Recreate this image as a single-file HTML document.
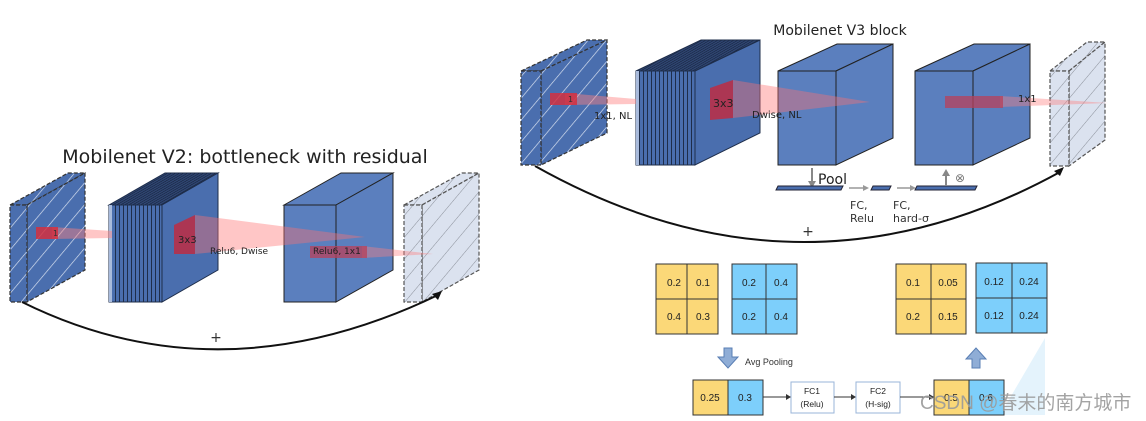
<!DOCTYPE html>
<html><head><meta charset="utf-8"><style>
body{margin:0;background:#fff;}
svg{display:block;font-family:"DejaVu Sans","Liberation Sans",sans-serif;}
.c{font-family:"Liberation Sans","Noto Sans CJK SC",sans-serif;}
</style></head><body>
<svg width="1146" height="421" viewBox="0 0 1146 421" xmlns="http://www.w3.org/2000/svg">
<defs>
<pattern id="hw" width="14" height="14" patternUnits="userSpaceOnUse" patternTransform="rotate(40)">
<rect width="14" height="14" fill="#4a6eae"/><line x1="0" y1="0" x2="0" y2="14" stroke="#dfe6f3" stroke-width="1.3"/></pattern>
<pattern id="hg" width="14" height="14" patternUnits="userSpaceOnUse" patternTransform="rotate(40)">
<rect width="14" height="14" fill="#dbe2ef"/><line x1="0" y1="0" x2="0" y2="14" stroke="#8a8f99" stroke-width="1"/></pattern>
<pattern id="st" width="4" height="10" patternUnits="userSpaceOnUse">
<rect width="4" height="10" fill="#4a6eae"/><line x1="3.5" y1="0" x2="3.5" y2="10" stroke="#1e2d4a" stroke-width="1"/></pattern>
<pattern id="stt" width="4" height="10" patternUnits="userSpaceOnUse" patternTransform="skewX(-60)">
<rect width="4" height="10" fill="#2e4470"/><line x1="3.5" y1="0" x2="3.5" y2="10" stroke="#16223a" stroke-width="1"/></pattern>
</defs>

<!-- ================= V2 ================= -->
<text x="245" y="163" font-size="19" text-anchor="middle" fill="#222">Mobilenet V2: bottleneck with residual</text>
<!-- slab 1 -->
<g stroke="#333" stroke-dasharray="4,2" stroke-width="1.2">
<polygon points="10,205 68,173 85,173 27,205" fill="url(#hw)"/>
<polygon points="27,205 85,173 85,270 27,302" fill="url(#hw)"/>
<rect x="10" y="205" width="17" height="97" fill="url(#hw)"/>
</g>
<!-- stack -->
<polygon points="109,205 165,173 218,173 162,205" fill="url(#stt)" stroke="#1e2d4a"/>
<rect x="109" y="205" width="53" height="97" fill="url(#st)" stroke="#1e2d4a"/>
<rect x="109" y="205" width="3" height="97" fill="#a9bbdc"/>
<polygon points="162,205 218,173 218,270 162,302" fill="#4a6eae" stroke="#1e2d4a"/>
<!-- box -->
<polygon points="284,205 341,173 393,173 336,205" fill="#5b7fbe" stroke="#222"/>
<rect x="284" y="205" width="52" height="97" fill="#5b7fbe" stroke="#222"/>
<polygon points="336,205 393,173 393,270 336,302" fill="#5b7fbe" stroke="#222"/>
<!-- light slab -->
<g stroke="#555" stroke-dasharray="4,2" stroke-width="1.2">
<polygon points="404,205 462,173 479,173 422,205" fill="url(#hg)"/>
<polygon points="422,205 479,173 479,270 422,302" fill="url(#hg)"/>
<rect x="404" y="205" width="18" height="97" fill="url(#hg)"/>
</g>
<!-- red -->
<polygon points="52,227 112,231 112,238 52,239" fill="#ff8080" opacity="0.45"/>
<rect x="36" y="227" width="22" height="12" fill="#d23040" opacity="0.85"/>
<text x="53" y="236" font-size="8" fill="#333">1</text>
<polygon points="195,215 365,237 195,254" fill="#ff7070" opacity="0.4"/>
<polygon points="174,225 195,215 195,254 174,254" fill="#c4283c" opacity="0.8"/>
<text x="178" y="243" font-size="10" fill="#222">3x3</text>
<text x="210" y="254" font-size="9" fill="#222">Relu6, Dwise</text>
<polygon points="362,246 433,254 362,258" fill="#ff8080" opacity="0.4"/>
<rect x="310" y="246" width="57" height="12" fill="#b8405a" opacity="0.75"/>
<text x="313" y="254" font-size="9" fill="#222">Relu6, 1x1</text>
<!-- curve -->
<path d="M22,302 Q220,400 438,295" fill="none" stroke="#111" stroke-width="2"/>
<polygon points="442,291 432,294 438,300" fill="#111"/>
<text x="216" y="342" font-size="14" text-anchor="middle" fill="#333">+</text>

<!-- ================= V3 ================= -->
<text x="840" y="35" font-size="14" text-anchor="middle" fill="#222">Mobilenet V3 block</text>
<g stroke="#333" stroke-dasharray="4,2" stroke-width="1.2">
<polygon points="521,71 587,40 607,40 541,71" fill="url(#hw)"/>
<polygon points="541,71 607,40 607,133 541,165" fill="url(#hw)"/>
<rect x="521" y="71" width="20" height="94" fill="url(#hw)"/>
</g>
<polygon points="636,71 701,40 760,40 695,71" fill="url(#stt)" stroke="#1e2d4a"/>
<rect x="636" y="71" width="59" height="94" fill="url(#st)" stroke="#1e2d4a"/>
<rect x="636" y="71" width="3" height="94" fill="#a9bbdc"/>
<polygon points="695,71 760,40 760,133 695,165" fill="#4a6eae" stroke="#1e2d4a"/>

<polygon points="778,71 837,44 893,44 836,71" fill="#5b7fbe" stroke="#222"/>
<rect x="778" y="71" width="58" height="94" fill="#5b7fbe" stroke="#222"/>
<polygon points="836,71 893,44 893,138 836,165" fill="#5b7fbe" stroke="#222"/>

<polygon points="915,71 974,44 1030,44 973,71" fill="#5b7fbe" stroke="#222"/>
<rect x="915" y="71" width="58" height="94" fill="#5b7fbe" stroke="#222"/>
<polygon points="973,71 1030,44 1030,138 973,165" fill="#5b7fbe" stroke="#222"/>

<g stroke="#555" stroke-dasharray="4,2" stroke-width="1.2">
<polygon points="1050,71 1087,42 1105,42 1069,71" fill="url(#hg)"/>
<polygon points="1069,71 1105,42 1105,140 1069,166" fill="url(#hg)"/>
<rect x="1050" y="71" width="19" height="95" fill="url(#hg)"/>
</g>

<polygon points="565,93 636,99 636,104 565,105" fill="#ff8080" opacity="0.45"/>
<rect x="550" y="93" width="27" height="12" fill="#d23040" opacity="0.85"/>
<text x="568" y="102" font-size="8" fill="#333">1</text>
<text x="594" y="119" font-size="10" fill="#222">1x1, NL</text>
<polygon points="733,80 870,102 733,118" fill="#ff7070" opacity="0.4"/>
<polygon points="710,88 733,80 733,118 710,120" fill="#c4283c" opacity="0.8"/>
<text x="713" y="107" font-size="11" fill="#222">3x3</text>
<text x="752" y="118" font-size="10" fill="#222">Dwise, NL</text>
<polygon points="1000,96 1108,103 1000,107" fill="#ff8080" opacity="0.4"/>
<rect x="945" y="96" width="58" height="12" fill="#b8405a" opacity="0.75"/>
<text x="1018" y="102" font-size="10" fill="#222">1x1</text>

<!-- pool row -->
<line x1="812" y1="168" x2="812" y2="183" stroke="#888" stroke-width="2"/>
<polygon points="808,181 816,181 812,188" fill="#888"/>
<text x="818" y="184" font-size="14" fill="#222">Pool</text>
<polygon points="778,186 843,186 841,190 776,190" fill="#4a6eae" stroke="#223"/>
<line x1="849" y1="188" x2="865" y2="188" stroke="#999" stroke-width="1.5"/><polygon points="863,185 869,188 863,191" fill="#999"/>
<polygon points="873,186 891,186 889,190 871,190" fill="#4a6eae" stroke="#223"/>
<line x1="897" y1="188" x2="912" y2="188" stroke="#999" stroke-width="1.5"/><polygon points="910,185 916,188 910,191" fill="#999"/>
<polygon points="917,186 977,186 975,190 915,190" fill="#4a6eae" stroke="#223"/>
<line x1="946" y1="186" x2="946" y2="174" stroke="#888" stroke-width="2"/><polygon points="942,176 950,176 946,169" fill="#888"/>
<text x="955" y="182" font-size="12" fill="#777">⊗</text>
<text x="850" y="209" font-size="11" fill="#333">FC,</text>
<text x="850" y="222" font-size="11" fill="#333">Relu</text>
<text x="893" y="209" font-size="11" fill="#333">FC,</text>
<text x="893" y="222" font-size="11" fill="#333">hard-σ</text>

<path d="M535,166 Q800,315 1060,172" fill="none" stroke="#111" stroke-width="2"/>
<polygon points="1064,167 1054,171 1060,176" fill="#111"/>
<text x="808" y="236" font-size="14" text-anchor="middle" fill="#333">+</text>

<!-- ================= grids ================= -->
<g font-size="10" fill="#222" text-anchor="middle" stroke="none" class="c">
<g stroke="#333" stroke-width="1">
<rect x="656" y="264" width="31" height="35" fill="#fbd878"/><rect x="687" y="264" width="31" height="35" fill="#fbd878"/>
<rect x="656" y="299" width="31" height="35" fill="#fbd878"/><rect x="687" y="299" width="31" height="35" fill="#fbd878"/>
<rect x="732" y="264" width="34" height="35" fill="#7dcffb"/><rect x="766" y="264" width="31" height="35" fill="#7dcffb"/>
<rect x="732" y="299" width="34" height="35" fill="#7dcffb"/><rect x="766" y="299" width="31" height="35" fill="#7dcffb"/>
<rect x="896" y="264" width="35" height="35" fill="#fbd878"/><rect x="931" y="264" width="35" height="35" fill="#fbd878"/>
<rect x="896" y="299" width="35" height="35" fill="#fbd878"/><rect x="931" y="299" width="35" height="35" fill="#fbd878"/>
<rect x="976" y="263" width="36" height="35" fill="#7dcffb"/><rect x="1012" y="263" width="35" height="35" fill="#7dcffb"/>
<rect x="976" y="298" width="36" height="35" fill="#7dcffb"/><rect x="1012" y="298" width="35" height="35" fill="#7dcffb"/>
</g>
<text x="674" y="286">0.2</text><text x="703" y="286">0.1</text>
<text x="674" y="320">0.4</text><text x="703" y="320">0.3</text>
<text x="749" y="286">0.2</text><text x="781" y="286">0.4</text>
<text x="749" y="320">0.2</text><text x="781" y="320">0.4</text>
<text x="913" y="286">0.1</text><text x="948" y="286">0.05</text>
<text x="913" y="320">0.2</text><text x="948" y="320">0.15</text>
<text x="994" y="285">0.12</text><text x="1029" y="285">0.24</text>
<text x="994" y="319">0.12</text><text x="1029" y="319">0.24</text>
</g>
<polygon points="1045,338 1045,415 1000,415" fill="#d8eefb" opacity="0.7"/>
<!-- arrows -->
<polygon points="724,348 732,348 732,357 738,357 728,368 718,357 724,357" fill="#8fadd6" stroke="#5a7fb4"/>
<text x="745" y="365" font-size="9" fill="#333" class="c">Avg Pooling</text>
<polygon points="972,368 980,368 980,359 986,359 976,348 966,359 972,359" fill="#8fadd6" stroke="#5a7fb4"/>
<g font-size="10" fill="#222" text-anchor="middle" class="c">
<rect x="693" y="380" width="35" height="35" fill="#fbd878" stroke="#333"/>
<rect x="728" y="380" width="35" height="35" fill="#7dcffb" stroke="#333"/>
<text x="710" y="401">0.25</text><text x="745" y="401">0.3</text>
<rect x="791" y="382" width="43" height="31" fill="#fff" stroke="#9ab4d8"/>
<text x="812" y="394" font-size="8.5">FC1</text><text x="812" y="407" font-size="8.5">(Relu)</text>
<rect x="856" y="382" width="44" height="31" fill="#fff" stroke="#9ab4d8"/>
<text x="878" y="394" font-size="8.5">FC2</text><text x="878" y="407" font-size="8.5">(H-sig)</text>
<rect x="934" y="380" width="35" height="35" fill="#fbd878" stroke="#333"/>
<rect x="969" y="380" width="35" height="35" fill="#7dcffb" stroke="#333"/>
<text x="951" y="401">0.5</text><text x="986" y="401">0.6</text>
</g>
<g stroke="#333" stroke-width="1">
<line x1="763" y1="397" x2="788" y2="397"/><line x1="834" y1="397" x2="853" y2="397"/><line x1="900" y1="397" x2="931" y2="397"/>
</g>
<polygon points="786,394 791,397 786,400" fill="#333"/><polygon points="851,394 856,397 851,400" fill="#333"/><polygon points="929,394 934,397 929,400" fill="#333"/>
<text x="920" y="409" font-size="19" fill="#9a9a9a" opacity="0.9" class="c">CSDN @春末的南方城市</text>
</svg>
</body></html>
